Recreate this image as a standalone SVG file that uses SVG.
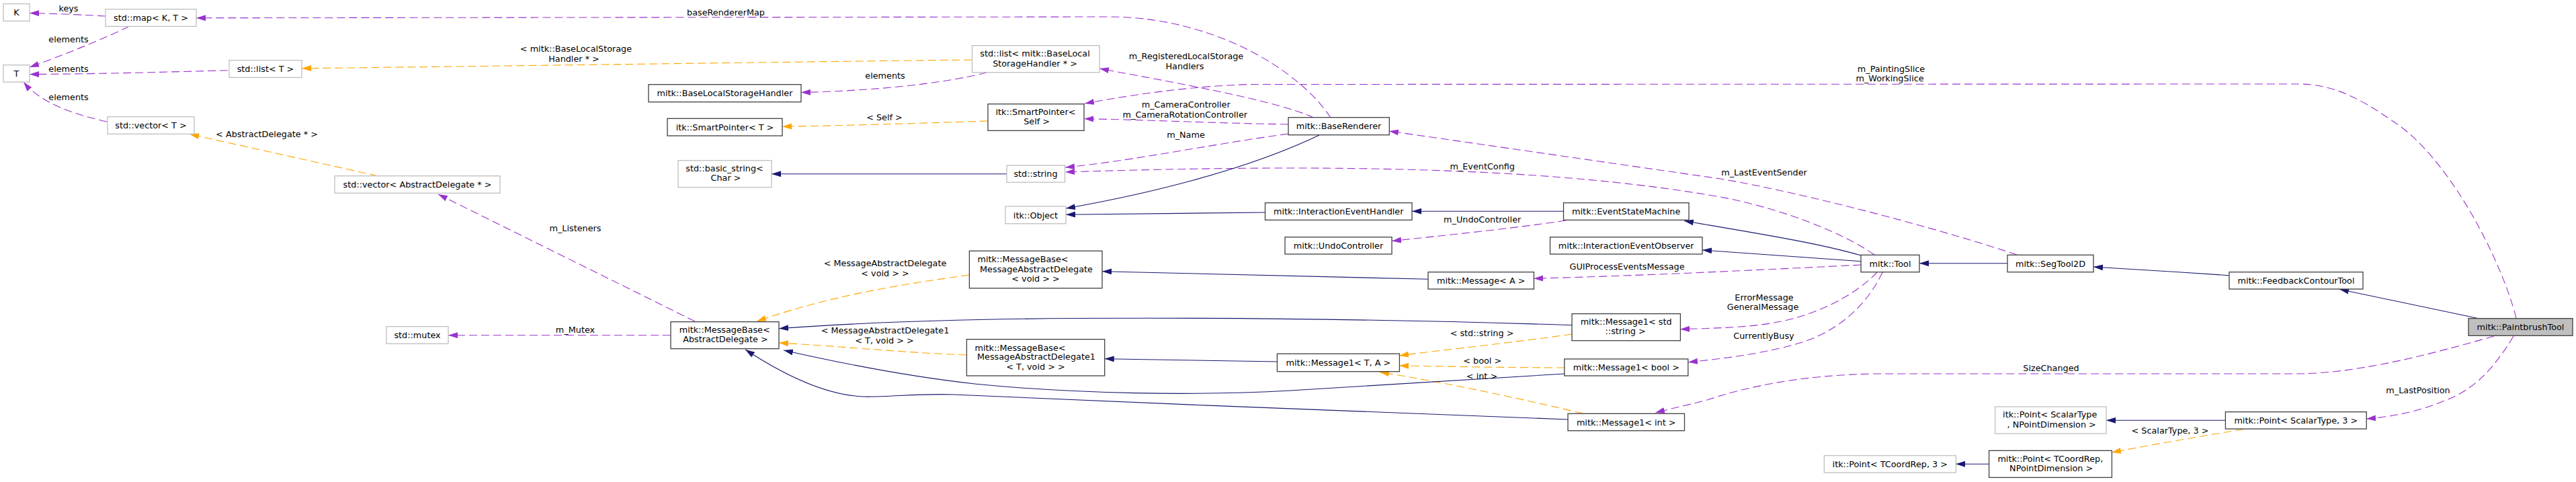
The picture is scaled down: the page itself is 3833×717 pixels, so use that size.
<svg xmlns="http://www.w3.org/2000/svg" width="3833" height="717" viewBox="0 0 3833 717">
<style>
text{font-family:"DejaVu Sans","Liberation Sans",sans-serif;font-size:12.8px;fill:#000;text-anchor:middle}
.nb{fill:#fff;stroke:#404040;stroke-width:1.3}
.ng{fill:#fff;stroke:#bfbfbf;stroke-width:1.3}
.nh{fill:#bfbfbf;stroke:#404040;stroke-width:1.3}
.ep{fill:none;stroke:#9a32cd;stroke-width:1.1;stroke-dasharray:12,6;marker-end:url(#ap)}
.eo{fill:none;stroke:#ffa500;stroke-width:1.1;stroke-dasharray:12,6;marker-end:url(#ao)}
.es{fill:none;stroke:#191970;stroke-width:1.1;marker-end:url(#as)}
</style>
<defs>
<marker id="ap" viewBox="0 0 14 9" refX="14" refY="4.5" markerWidth="14" markerHeight="9" markerUnits="userSpaceOnUse" orient="auto"><path d="M0,0L14,4.5L0,9z" fill="#9a32cd"/></marker>
<marker id="ao" viewBox="0 0 14 9" refX="14" refY="4.5" markerWidth="14" markerHeight="9" markerUnits="userSpaceOnUse" orient="auto"><path d="M0,0L14,4.5L0,9z" fill="#ffa500"/></marker>
<marker id="as" viewBox="0 0 14 9" refX="14" refY="4.5" markerWidth="14" markerHeight="9" markerUnits="userSpaceOnUse" orient="auto"><path d="M0,0L14,4.5L0,9z" fill="#191970"/></marker>
</defs>
<rect width="3833" height="717" fill="#fff"/>
<g id="connectors">
<path class="ep" d="M157,24 C120,22 80,20 44,19.5"/>
<path class="ep" d="M192,39.3 C160,55 100,80 44,100"/>
<path class="ep" d="M339,104.7 C250,107 150,110 44,110.5"/>
<path class="ep" d="M159,181 C100,168 58,150 35,122"/>
<path class="ep" d="M1980,175 C1930,100 1800,25 1650,25 L292,26.7"/>
<path class="ep" d="M1468,108 C1400,125 1300,135 1192,137.5"/>
<path class="ep" d="M1955,175 C1900,150 1760,125 1636,102"/>
<path class="ep" d="M3744,473 C3720,380 3640,230 3560,180 C3510,145 3470,125 3420,125 L1860,125.5 C1780,128 1700,138 1614,154"/>
<path class="ep" d="M1917,185 C1800,183 1700,178 1613,176.7"/>
<path class="ep" d="M1917,199 C1800,215 1680,240 1585,249"/>
<path class="ep" d="M2789,379 C2740,345 2650,310 2560,293 C2400,265 2200,250 1920,250 C1800,250 1680,253 1585,256"/>
<path class="ep" d="M3001,379 C2900,345 2700,290 2560,266 L2067,195"/>
<path class="ep" d="M2769,394 C2650,400 2450,410 2282,414.3"/>
<path class="ep" d="M2793,405 C2760,440 2700,470 2640,480 C2600,487 2560,488 2500,489.7"/>
<path class="ep" d="M2801,405 C2780,450 2740,490 2682,509 C2630,525 2570,533 2512,538.7"/>
<path class="ep" d="M3711,500 C3640,520 3520,555 3420,556 L2790,556 C2680,558 2600,575 2540,595 C2510,603 2485,608 2463,614"/>
<path class="ep" d="M3740,500 C3710,550 3680,580 3640,595 C3600,612 3560,620 3521,623"/>
<path class="ep" d="M1034,478 L652,289"/>
<path class="ep" d="M998,498.7 L667,498.7"/>
<path class="ep" d="M2330,328 C2250,340 2150,350 2071,358.5"/>
<path class="eo" d="M1446.5,89 C1100,93 700,99 449,101.7"/>
<path class="eo" d="M1470,180 C1350,184 1250,187 1164,188.3"/>
<path class="eo" d="M562,261.7 L282,199.5"/>
<path class="eo" d="M1442,409 C1350,422 1240,438 1126,478"/>
<path class="eo" d="M1438,528 C1350,525 1250,515 1159,510"/>
<path class="eo" d="M2339,497 C2250,510 2150,520 2082,529"/>
<path class="eo" d="M2328,547 C2250,547 2150,545 2082,544"/>
<path class="eo" d="M2355,615 C2250,590 2130,565 2053,553.7"/>
<path class="eo" d="M3338,638.7 C3280,648 3200,662 3142,673"/>
<path class="es" d="M1498,258.7 L1148,258.7"/>
<path class="es" d="M1963,201 C1850,255 1700,290 1586,310"/>
<path class="es" d="M1882.5,316 C1780,317 1680,318 1586,319.3"/>
<path class="es" d="M2326.5,314.3 L2101,314.3"/>
<path class="es" d="M2769,380 C2700,360 2600,345 2506,328.5"/>
<path class="es" d="M2769,388.7 C2680,382 2600,376 2533,372"/>
<path class="es" d="M2987,391.7 L2856,391.7"/>
<path class="es" d="M3317,409.7 C3250,405 3180,401 3115,397"/>
<path class="es" d="M3688,473.7 L3481,430.3"/>
<path class="es" d="M2125,415.3 C1950,410 1780,406 1640,403.7"/>
<path class="es" d="M2339,483.7 C2100,476 1850,472 1600,473.5 C1400,475 1250,482 1159,488.7"/>
<path class="es" d="M1900.4,538 L1643.7,533.7"/>
<path class="es" d="M2328,556 L1920,581 C1780,589 1600,586 1450,571 C1350,560 1250,540 1166,521"/>
<path class="es" d="M2333,624 C2150,617 1700,600 1420,587 C1370,585 1320,591 1285,590 C1230,588 1170,560 1109,520"/>
<path class="es" d="M3311.4,625.3 L3134,625.3"/>
<path class="es" d="M2959.6,690.3 L2910.2,690.3"/>
</g>
<g id="edge-labels">
<text x="102" y="17.3">keys</text>
<text x="102" y="63.3">elements</text>
<text x="102" y="106.9">elements</text>
<text x="102" y="148.9">elements</text>
<text x="397" y="203.9">&lt; AbstractDelegate * &gt;</text>
<text x="1080" y="22.9">baseRendererMap</text>
<text x="857" y="76.9">&lt; mitk::BaseLocalStorage</text>
<text x="854" y="91.9">Handler * &gt;</text>
<text x="1317" y="117.3">elements</text>
<text x="1316" y="178.6">&lt; Self &gt;</text>
<text x="1765" y="88.3">m_RegisteredLocalStorage</text>
<text x="1763" y="102.9">Handlers</text>
<text x="1764.7" y="160.3">m_CameraController</text>
<text x="1763.3" y="175.3">m_CameraRotationController</text>
<text x="1764.5" y="205.3">m_Name</text>
<text x="856" y="343.9">m_Listeners</text>
<text x="856" y="494.9">m_Mutex</text>
<text x="1317" y="395.9">&lt; MessageAbstractDelegate</text>
<text x="1317" y="410.9">&lt; void &gt; &gt;</text>
<text x="1317" y="495.9">&lt; MessageAbstractDelegate1</text>
<text x="1316" y="510.9">&lt; T, void &gt; &gt;</text>
<text x="2205.7" y="252.3">m_EventConfig</text>
<text x="2205.7" y="330.9">m_UndoController</text>
<text x="2421" y="401.3">GUIProcessEventsMessage</text>
<text x="2205" y="499.6">&lt; std::string &gt;</text>
<text x="2205.7" y="540.9">&lt; bool &gt;</text>
<text x="2205" y="563.6">&lt; int &gt;</text>
<text x="2814" y="107.3">m_PaintingSlice</text>
<text x="2812" y="121.3">m_WorkingSlice</text>
<text x="2625" y="261.3">m_LastEventSender</text>
<text x="2625" y="447.3">ErrorMessage</text>
<text x="2623" y="461.3">GeneralMessage</text>
<text x="2624.5" y="504.3">CurrentlyBusy</text>
<text x="3052" y="551.9">SizeChanged</text>
<text x="3229" y="644.9">&lt; ScalarType, 3 &gt;</text>
<text x="3598" y="585.3">m_LastPosition</text>
</g>
<g id="n_K"><rect class="ng" x="5" y="5.7" width="39" height="25.6"/><text x="24.5" y="23.1">K</text></g>
<g id="n_map"><rect class="ng" x="157" y="13.7" width="135" height="25.6"/><text x="224.5" y="31.1">std::map&lt; K, T &gt;</text></g>
<g id="n_T"><rect class="ng" x="5" y="96.7" width="39" height="25.4"/><text x="24.5" y="114">T</text></g>
<g id="n_listT"><rect class="ng" x="341" y="89.7" width="108" height="25.6"/><text x="395" y="107.1">std::list&lt; T &gt;</text></g>
<g id="n_vectorT"><rect class="ng" x="160" y="173.7" width="129" height="25.6"/><text x="224.5" y="191.1">std::vector&lt; T &gt;</text></g>
<g id="n_vectorAD"><rect class="ng" x="498" y="261.7" width="246" height="25.6"/><text x="621" y="279.1">std::vector&lt; AbstractDelegate * &gt;</text></g>
<g id="n_BLSH"><rect class="nb" x="965" y="125.7" width="227" height="26"/><text x="1078.5" y="143.3">mitk::BaseLocalStorageHandler</text></g>
<g id="n_SPT"><rect class="nb" x="993" y="176.3" width="171" height="25.7"/><text x="1078.5" y="193.7">itk::SmartPointer&lt; T &gt;</text></g>
<g id="n_basic_string"><rect class="ng" x="1009" y="238.7" width="139" height="40"/><text x="1078" y="254.6">std::basic_string&lt;</text><text x="1080" y="268.9">Char &gt;</text></g>
<g id="n_listBLSH"><rect class="ng" x="1446.5" y="67.7" width="189.5" height="40"/><text x="1540" y="83.9">std::list&lt; mitk::BaseLocal</text><text x="1540" y="98.9">StorageHandler * &gt;</text></g>
<g id="n_SPSelf"><rect class="nb" x="1470" y="154.7" width="143" height="39.6"/><text x="1541" y="170.6">itk::SmartPointer&lt;</text><text x="1542.6" y="184.6">Self &gt;</text></g>
<g id="n_string"><rect class="ng" x="1498" y="246" width="86.5" height="25.2"/><text x="1541" y="263.2">std::string</text></g>
<g id="n_itkObject"><rect class="ng" x="1496" y="307" width="90" height="25.7"/><text x="1541" y="324.5">itk::Object</text></g>
<g id="n_BaseRenderer"><rect class="nb" x="1917" y="174.7" width="150.3" height="26"/><text x="1992" y="192.3">mitk::BaseRenderer</text></g>
<g id="n_IEH"><rect class="nb" x="1882.5" y="301.7" width="218.5" height="25.6"/><text x="1991.7" y="319.1">mitk::InteractionEventHandler</text></g>
<g id="n_ESM"><rect class="nb" x="2326.5" y="301.7" width="186.5" height="25.6"/><text x="2419.7" y="319.1">mitk::EventStateMachine</text></g>
<g id="n_Undo"><rect class="nb" x="1912" y="352.7" width="159" height="25.3"/><text x="1991.5" y="370">mitk::UndoController</text></g>
<g id="n_IEO"><rect class="nb" x="2306.5" y="352.7" width="226.5" height="25.3"/><text x="2419.7" y="370">mitk::InteractionEventObserver</text></g>
<g id="n_MessageA"><rect class="nb" x="2125" y="404.7" width="157.4" height="25.3"/><text x="2203.7" y="422">mitk::Message&lt; A &gt;</text></g>
<g id="n_MBvoid"><rect class="nb" x="1442.4" y="373.3" width="197.6" height="55.4"/><text x="1522" y="390">mitk::MessageBase&lt;</text><text x="1542" y="404.8">MessageAbstractDelegate</text><text x="1541" y="418.8">&lt; void &gt; &gt;</text></g>
<g id="n_MB1"><rect class="nb" x="1438.4" y="504.7" width="205.3" height="54.3"/><text x="1518" y="521.5">mitk::MessageBase&lt;</text><text x="1542" y="535.2">MessageAbstractDelegate1</text><text x="1541" y="549.8">&lt; T, void &gt; &gt;</text></g>
<g id="n_MBAD"><rect class="nb" x="998" y="478.7" width="161" height="40"/><text x="1078.2" y="495.3">mitk::MessageBase&lt;</text><text x="1079.4" y="508.9">AbstractDelegate &gt;</text></g>
<g id="n_mutex"><rect class="ng" x="575" y="485.7" width="92" height="25.6"/><text x="621" y="503.1">std::mutex</text></g>
<g id="n_M1TA"><rect class="nb" x="1900.4" y="526.3" width="182" height="26.4"/><text x="1991.4" y="544.1">mitk::Message1&lt; T, A &gt;</text></g>
<g id="n_M1str"><rect class="nb" x="2339" y="466.7" width="161.4" height="40"/><text x="2419.6" y="483.3">mitk::Message1&lt; std</text><text x="2418.6" y="497.3">::string &gt;</text></g>
<g id="n_M1bool"><rect class="nb" x="2327.8" y="534" width="184" height="25"/><text x="2419.8" y="551.1">mitk::Message1&lt; bool &gt;</text></g>
<g id="n_M1int"><rect class="nb" x="2333" y="615.3" width="173.5" height="25.4"/><text x="2419.7" y="632.6">mitk::Message1&lt; int &gt;</text></g>
<g id="n_Tool"><rect class="nb" x="2769" y="379.3" width="87" height="25.4"/><text x="2812.5" y="396.6">mitk::Tool</text></g>
<g id="n_SegTool2D"><rect class="nb" x="2987" y="379.3" width="128" height="25.4"/><text x="3051" y="396.6">mitk::SegTool2D</text></g>
<g id="n_FCT"><rect class="nb" x="3317" y="404.7" width="199" height="25.3"/><text x="3416.5" y="422">mitk::FeedbackContourTool</text></g>
<g id="n_Paintbrush"><rect class="nh" x="3673" y="473.7" width="155" height="25.6"/><text x="3750.5" y="491.1">mitk::PaintbrushTool</text></g>
<g id="n_mPointS3"><rect class="nb" x="3311.4" y="612.7" width="209.8" height="25.3"/><text x="3416.3" y="630">mitk::Point&lt; ScalarType, 3 &gt;</text></g>
<g id="n_itkPointSN"><rect class="ng" x="2968.6" y="605" width="165.4" height="40"/><text x="3050.2" y="621.3">itk::Point&lt; ScalarType</text><text x="3052.7" y="635.9">, NPointDimension &gt;</text></g>
<g id="n_mPointTN"><rect class="nb" x="2959.6" y="670.3" width="182.8" height="40"/><text x="3050.8" y="686.9">mitk::Point&lt; TCoordRep,</text><text x="3052.2" y="701.3">NPointDimension &gt;</text></g>
<g id="n_itkPointT3"><rect class="ng" x="2714.3" y="677.7" width="196" height="25.3"/><text x="2812.3" y="695">itk::Point&lt; TCoordRep, 3 &gt;</text></g>
</svg>
